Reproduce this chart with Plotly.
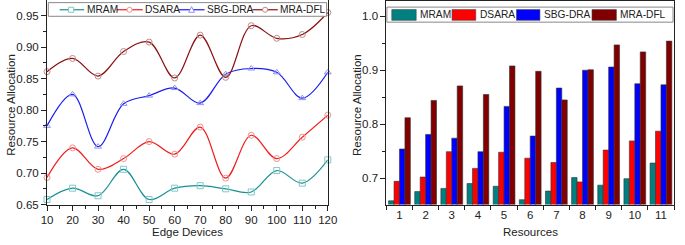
import plotly.graph_objects as go

# ---------------- data ----------------
edge_devices = [10, 20, 30, 40, 50, 60, 70, 80, 90, 100, 110, 120]
line_mram = [0.658, 0.676, 0.664, 0.706, 0.658, 0.676, 0.680, 0.675, 0.670, 0.704, 0.684, 0.721]
line_dsara = [0.693, 0.740, 0.706, 0.723, 0.750, 0.730, 0.773, 0.692, 0.760, 0.723, 0.757, 0.792]
line_sbg = [0.775, 0.825, 0.742, 0.810, 0.823, 0.835, 0.811, 0.857, 0.866, 0.860, 0.819, 0.860]
line_dfl = [0.861, 0.882, 0.854, 0.893, 0.908, 0.851, 0.919, 0.852, 0.934, 0.914, 0.920, 0.955]

resources = [1, 2, 3, 4, 5, 6, 7, 8, 9, 10, 11]
bar_mram = [0.658, 0.675, 0.681, 0.690, 0.685, 0.660, 0.676, 0.701, 0.687, 0.699, 0.728]
bar_dsara = [0.694, 0.702, 0.749, 0.718, 0.748, 0.737, 0.729, 0.693, 0.752, 0.769, 0.787]
bar_sbg = [0.754, 0.781, 0.774, 0.749, 0.833, 0.778, 0.867, 0.900, 0.906, 0.875, 0.873]
bar_dfl = [0.812, 0.844, 0.871, 0.855, 0.908, 0.898, 0.845, 0.901, 0.947, 0.934, 0.954]

series_names = ["MRAM", "DSARA", "SBG-DRA", "MRA-DFL"]
line_colors = ["#1a9090", "#f01c1c", "#1c1cf0", "#8a1010"]
marker_colors = ["#80c8c8", "#f09090", "#9090f0", "#c08888"]
marker_symbols = ["square-open", "circle-open", "triangle-up-open", "circle-open"]
bar_colors = ["#008080", "#ff0000", "#0000ff", "#800000"]

W, H = 685, 245
FONT = "Liberation Sans, Arial, sans-serif"

def px(x):
    return x / W

def py(y):
    return 1 - y / H

fig = go.Figure()

# ---------------- left: spline lines ----------------
for name, vals, lc, mc, sym in zip(series_names, [line_mram, line_dsara, line_sbg, line_dfl],
                                    line_colors, marker_colors, marker_symbols):
    fig.add_trace(go.Scatter(
        x=edge_devices, y=vals, name=name, mode="lines+markers",
        line=dict(color=lc, width=1.2, shape="spline", smoothing=1.0),
        marker=dict(symbol=sym, size=6, color=mc, line=dict(width=1, color=mc)),
        xaxis="x", yaxis="y", showlegend=False, cliponaxis=False,
    ))

# ---------------- right: grouped bars ----------------
for name, vals, bc in zip(series_names, [bar_mram, bar_dsara, bar_sbg, bar_dfl], bar_colors):
    fig.add_trace(go.Bar(
        x=resources, y=vals, name=name, marker=dict(color=bc, line=dict(color="#333333", width=0.6)),
        xaxis="x2", yaxis="y2", showlegend=False,
    ))

axis_common = dict(showgrid=False, zeroline=False, showline=True, linecolor="#222222", linewidth=1,
                   ticks="outside", tickcolor="#222222", tickwidth=1,
                   tickfont=dict(family=FONT, size=11.5, color="#222222"))

fig.update_layout(
    width=W, height=H, margin=dict(l=0, r=0, t=0, b=0),
    plot_bgcolor="white", paper_bgcolor="white",
    barmode="group", bargap=0.167, bargroupgap=0,
    xaxis=dict(domain=[px(42), px(329.5)], range=[10, 120], anchor="y",
               tickvals=edge_devices, ticklen=5,
               minor=dict(dtick=5, tick0=5, ticklen=3, ticks="outside", tickcolor="#222222"),
               **axis_common),
    yaxis=dict(domain=[py(209.7), 1.0], range=[0.65, 0.9748], anchor="x",
               tickvals=[0.65, 0.70, 0.75, 0.80, 0.85, 0.90, 0.95], tickformat=".2f", ticklen=5,
               minor=dict(dtick=0.025, tick0=0.625, ticklen=3, ticks="outside", tickcolor="#222222"),
               mirror=True, **axis_common),
    xaxis2=dict(domain=[px(389.5), px(684)], range=[0.5, 11.5], anchor="y2",
                tickvals=resources, ticklen=0, mirror=True,
                minor=dict(dtick=1, tick0=0.5, ticklen=4, ticks="outside", tickcolor="#222222"),
                **axis_common),
    yaxis2=dict(domain=[py(209.7), py(1)], range=[0.651, 1.0284], anchor="x2",
                tickvals=[0.7, 0.8, 0.9, 1.0], tickformat=".1f", ticklen=5, mirror=True,
                minor=dict(dtick=0.05, tick0=0.65, ticklen=3, ticks="outside", tickcolor="#222222"),
                **axis_common),
)

# ---------------- axis titles ----------------
title_font = dict(family=FONT, size=11.5, color="#222222")
fig.add_annotation(x=px(185.7), y=py(238), xref="paper", yref="paper", text="Edge Devices",
                   showarrow=False, font=title_font, xanchor="center", yanchor="middle")
fig.add_annotation(x=px(537), y=py(238), xref="paper", yref="paper", text="Resources",
                   showarrow=False, font=title_font, xanchor="center", yanchor="middle")
fig.add_annotation(x=px(5), y=py(107.5), xref="paper", yref="paper", text="Resource Allocation",
                   showarrow=False, font=title_font, textangle=-90, xanchor="center", yanchor="middle")
fig.add_annotation(x=px(359.5), y=py(107.5), xref="paper", yref="paper", text="Resource Allocation",
                   showarrow=False, font=title_font, textangle=-90, xanchor="center", yanchor="middle")

# ---------------- left legend (drawn) ----------------
leg_font = dict(family=FONT, size=10.2, color="#222222")
fig.add_shape(type="rect", xref="paper", yref="paper", x0=px(43.3), x1=px(328.3), y0=py(16.7), y1=py(2.7),
              line=dict(color="#888888", width=1), fillcolor="white", layer="above")
left_items = [(55, 80, 66.7, 81.5), (113, 140, 126.5, 141.5), (176.7, 203.3, 190, 204.3), (252.3, 278.3, 265.3, 279.3)]
ly = 10
for (x0, x1, mx, tx), name, lc, mc, sym in zip(left_items, series_names, line_colors, marker_colors, marker_symbols):
    fig.add_shape(type="line", xref="paper", yref="paper", x0=px(x0), x1=px(x1), y0=py(ly), y1=py(ly),
                  line=dict(color=lc, width=1.2), layer="above")
    r = 2.6
    if sym.startswith("square"):
        fig.add_shape(type="rect", xref="paper", yref="paper", x0=px(mx - r), x1=px(mx + r),
                      y0=py(ly + r), y1=py(ly - r), line=dict(color=mc, width=1), fillcolor="white", layer="above")
    elif sym.startswith("circle"):
        fig.add_shape(type="circle", xref="paper", yref="paper", x0=px(mx - r), x1=px(mx + r),
                      y0=py(ly + r), y1=py(ly - r), line=dict(color=mc, width=1), fillcolor="white", layer="above")
    else:
        path = f"M {px(mx - r - 0.4)} {py(ly + r)} L {px(mx + r + 0.4)} {py(ly + r)} L {px(mx)} {py(ly - r - 0.6)} Z"
        fig.add_shape(type="path", xref="paper", yref="paper", path=path,
                      line=dict(color=mc, width=1), fillcolor="white", layer="above")
    fig.add_annotation(x=px(tx), y=py(ly), xref="paper", yref="paper", text=name, showarrow=False,
                       font=leg_font, xanchor="left", yanchor="middle", xshift=-1)

# ---------------- right legend (drawn) ----------------
fig.add_shape(type="rect", xref="paper", yref="paper", x0=px(390), x1=px(683), y0=py(22.7), y1=py(7.3),
              line=dict(color="#888888", width=1), fillcolor="white", layer="above")
right_items = [(395, 420, 423), (456.7, 481, 484), (522.7, 546.7, 550), (600, 625, 628)]
ry = 15.3
for (x0, x1, tx), name, bc in zip(right_items, series_names, bar_colors):
    fig.add_shape(type="rect", xref="paper", yref="paper", x0=px(x0), x1=px(x1), y0=py(ry + 5.5), y1=py(ry - 5.5),
                  line=dict(color="#444444", width=0.6), fillcolor=bc, layer="above")
    fig.add_annotation(x=px(tx), y=py(ry), xref="paper", yref="paper", text=name, showarrow=False,
                       font=leg_font, xanchor="left", yanchor="middle", xshift=-1)

fig.write_html("out.html", config={"displayModeBar": False},
               post_script="document.body.style.margin='0';document.body.style.padding='0';document.body.style.overflow='hidden';")
